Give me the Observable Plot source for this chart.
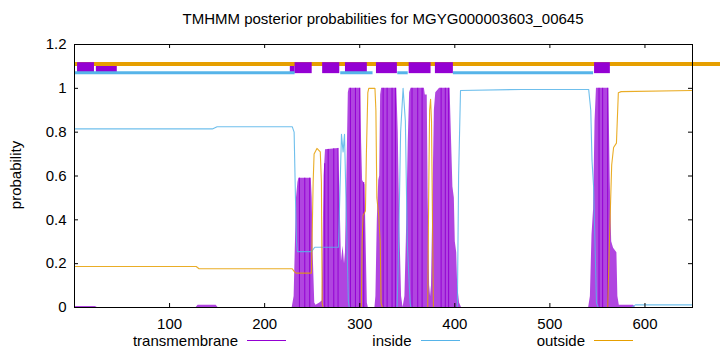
<!DOCTYPE html>
<html><head><meta charset="utf-8">
<script src="https://cdn.jsdelivr.net/npm/d3@7"></script>
<script src="https://cdn.jsdelivr.net/npm/@observablehq/plot@0.6"></script>
<style>
body{margin:0;background:#fff;}
#wrap{position:relative;width:720px;height:352px;font-family:"Liberation Sans",Arial,sans-serif;color:#000;overflow:hidden;}
#title{position:absolute;top:10px;left:74px;width:618px;text-align:center;font-size:15px;line-height:17px;white-space:nowrap;}
#ylab{position:absolute;left:15px;top:175px;transform:translate(-50%,-50%) rotate(-90deg);font-size:15px;line-height:17px;white-space:nowrap;}
#chart{position:absolute;top:0;left:0;}
.legt{position:absolute;top:334px;font-size:15px;line-height:14px;text-align:right;white-space:nowrap;}
.legl{position:absolute;top:340px;height:0;border-top:1px solid;}
</style>
</head><body>
<div id="wrap">
<div id="chart"></div>
<div id="title">TMHMM posterior probabilities for MGYG000003603_00645</div>
<div id="ylab">probability</div>
</div>
<script>
// ---- data ----
const xTicks = [100, 200, 300, 400, 500, 600];
const yTicks = [0, 0.2, 0.4, 0.6, 0.8, 1, 1.2];

const insideX = [1,130,145,150,229,231,232.4,233.5,234.5,249.2,252.7,277.6,279,280.8,282.5,284,285.5,288,289,339.3,341,343,345.6,348,350,353,354,402.7,404,406,470,540.8,543,544.3,546,549,551,586,590,649];
const insideY = [0.815,0.815,0.815,0.825,0.825,0.8,0.5,0.3,0.255,0.255,0.275,0.275,0.5,0.79,0.71,0.79,0.5,0.03,0,0,0.3,0.8,1.0,0.85,0.3,0.02,0,0,0.6,0.99,0.995,0.995,0.9,0.67,0.55,0.02,0,0,0.012,0.012];

const outsideX = [1,128,131,229,231,233,249.2,251,252,255,258.5,259.7,260.5,261.5,301.7,302.5,303.5,306,307,308.5,309.5,316,317,318,320,321.5,322.5,324,371.5,372.5,373.5,374.5,375.5,376.5,377.5,560.8,562,563.5,565,567,570,572,575,649];
const outsideY = [0.187,0.187,0.177,0.177,0.165,0.157,0.157,0.57,0.70,0.726,0.71,0.57,0.02,0,0,0.3,0.42,0.44,0.7,0.98,1.0,1.0,0.9,0.5,0.42,0.3,0.02,0,0,0.5,0.9,0.95,0.85,0.4,0,0,0.2,0.43,0.65,0.73,0.75,0.98,0.985,0.99];

const tmX = [1,22,24,128,130,149,151,229,231,232.4,233.5,235,236,249,250,251,252.7,254,258,260.5,261.5,262.5,264,277.6,279,280.8,282.5,284,285,286.5,288,289,301,302,303,305.5,306.5,308,309,316,317,318.5,320,321,322,323,339,340.5,342,344,345.6,347.5,349,351,352.5,354,368,369,371,372,373.5,374.5,375.5,377,378.5,380,384,395,396,397,398,399.5,400.5,402,403,405,407,540.8,542.6,544.3,546,547.5,549,562,563.5,565,567,570.5,571.5,573,588,590,649];
const tmY = [0.005,0.005,0,0,0.01,0.01,0,0,0.05,0.3,0.5,0.57,0.59,0.59,0.5,0.25,0.02,0.01,0.02,0.03,0.3,0.6,0.72,0.726,0.55,0.21,0.28,0.2,0.25,0.6,0.98,1.0,1.0,0.75,0.58,0.56,0.35,0.02,0,0,0.05,0.4,0.58,0.6,0.97,1.0,1.0,0.8,0.4,0.05,0,0.05,0.3,0.75,0.98,1.0,1.0,0.97,0.97,0.5,0.1,0.05,0.1,0.5,0.9,0.98,1.0,1.0,0.85,0.7,0.55,0.5,0.3,0.25,0.1,0.02,0,0,0.05,0.33,0.45,0.85,1.0,1.0,0.57,0.3,0.27,0.25,0.05,0.01,0.01,0,0];

// darker impulse lines visible inside the filled transmembrane area
const impulseX = [236.6,242.2,247.4,263.2,266.8,272.7,277.2,290.2,295.5,300,304.2,324.6,328.8,334,337.5,355,361,365.6,385.6,390,393.5,551.7,555.5,560.8];

// predicted topology strip at the top
const tmBoxStartA = [3.2,232,261,285,317.6,352,379.6,547];
const tmBoxEndA   = [21,250,279,308,339.6,375,398.5,563.6];
const tmBoxStartB = [23,227];
const tmBoxEndB   = [45,232];
const insideSegStart = [0,280,340,398.5];
const insideSegEnd   = [232,314,351,546];
const outsideSegStart = [0];
const outsideSegEnd   = [680];
const boxLow = 1.067, boxHigh = 1.117, outsideLevel = 1.111, insideLevel = 1.071;

const legendLabels = ["transmembrane", "inside", "outside"];
const legendColors = ["#9400d3", "#56b4e9", "#e69f00"];

// ---- build tables ----
const zipXY = (xs, ys) => xs.map((x, i) => ({x, y: ys[i]}));
const inside = zipXY(insideX, insideY);
const outside = zipXY(outsideX, outsideY);
const tm = zipXY(tmX, tmY);
function interp(xs, ys, x) {
  for (let i = 1; i < xs.length; i++) {
    if (x <= xs[i]) { const t = (x - xs[i-1]) / (xs[i] - xs[i-1]); return ys[i-1] + t * (ys[i] - ys[i-1]); }
  }
  return ys[ys.length - 1];
}
const impulses = impulseX.map(x => ({x, y: interp(tmX, tmY, x)}));
const segs = (s, e) => s.map((v, i) => ({s: v, e: e[i]}));
const boxesA = segs(tmBoxStartA, tmBoxEndA);
const boxesB = segs(tmBoxStartB, tmBoxEndB);
const inSegs = segs(insideSegStart, insideSegEnd);
const outSegs = segs(outsideSegStart, outsideSegEnd);

const W = 720, H = 332, mL = 74, mR = 28, mT = 44, mB = 25;
const pw = W - mL - mR, ph = H - mT - mB, tl = 4;

const chart = Plot.plot({
  width: W, height: H, marginTop: mT, marginLeft: mL, marginRight: mR, marginBottom: mB,
  x: {domain: [0, 650]},
  y: {domain: [0, 1.2]},
  style: {fontFamily: "Liberation Sans, Arial, sans-serif", fontSize: "15px", background: "transparent", color: "black", overflow: "visible"},
  marks: [
    Plot.areaY(tm, {x: "x", y: "y", fill: "#b045e0", curve: "linear"}),
    Plot.ruleX(impulses, {x: "x", y1: () => 0, y2: "y", stroke: "#9400d3", strokeWidth: 1}),
    Plot.line(inside, {x: "x", y: "y", stroke: "#56b4e9", strokeWidth: 1.1, strokeOpacity: 0.85}),
    Plot.line(outside, {x: "x", y: "y", stroke: "#e69f00", strokeWidth: 1.1, strokeOpacity: 0.85}),
    Plot.rect(boxesB, {x1: "s", x2: "e", y1: () => boxLow, y2: () => boxHigh, fill: "#9400d3"}),
    Plot.ruleY(outSegs, {x1: "s", x2: "e", y: () => outsideLevel, stroke: "#e69f00", strokeWidth: 4}),
    Plot.rect(boxesA, {x1: "s", x2: "e", y1: () => boxLow, y2: () => boxHigh, fill: "#9400d3"}),
    Plot.ruleY(inSegs, {x1: "s", x2: "e", y: () => insideLevel, stroke: "#56b4e9", strokeWidth: 3}),
    Plot.frame({stroke: "black", strokeWidth: 1}),
    Plot.tickY(yTicks, {y: d => d, insetRight: pw - tl, stroke: "black"}),
    Plot.tickY(yTicks, {y: d => d, insetLeft: pw - tl, stroke: "black"}),
    Plot.tickX(xTicks, {x: d => d, insetTop: ph - tl, stroke: "black"}),
    Plot.tickX(xTicks, {x: d => d, insetBottom: ph - tl, stroke: "black"}),
    Plot.axisY({ticks: yTicks, tickSize: 0, tickPadding: 8, tickFormat: d => String(d), label: null}),
    Plot.axisX({ticks: xTicks, tickSize: 0, tickPadding: 11, tickFormat: d => String(d), label: null})
  ]
});
document.getElementById("chart").appendChild(chart);

// legend below the plot
const wrap = document.getElementById("wrap");
legendLabels.forEach((lab, i) => {
  const right = 238 + i * 173.5;
  const t = document.createElement("div");
  t.className = "legt"; t.textContent = lab;
  t.style.right = (W - right) + "px";
  wrap.appendChild(t);
  const l = document.createElement("div");
  l.className = "legl";
  l.style.left = (right + 9) + "px"; l.style.width = "39px";
  l.style.borderTopColor = legendColors[i];
  wrap.appendChild(l);
});
</script>
</body></html>
